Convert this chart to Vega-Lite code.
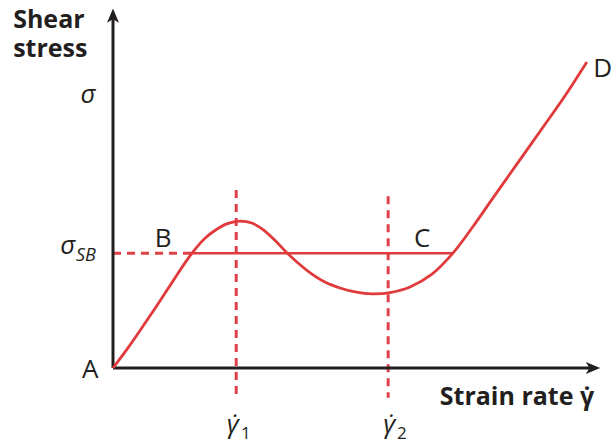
{
  "$schema": "https://vega.github.io/schema/vega-lite/v6.json",
  "autosize": {"type": "none"},
  "width": 487,
  "height": 328,
  "padding": {"left": 113, "top": 40, "right": 14, "bottom": 80},
  "background": "white",
  "config": {"view": {"stroke": null}},
  "datasets": {
    "curve": [
      {"x": 0, "y": 0}, {"x": 0.3, "y": 0.6}, {"x": 0.6, "y": 1.24}, {"x": 0.9, "y": 1.9},
      {"x": 1.2, "y": 2.58}, {"x": 1.5, "y": 3.25}, {"x": 1.7, "y": 3.65}, {"x": 1.9, "y": 3.97},
      {"x": 2.1, "y": 4.2}, {"x": 2.35, "y": 4.4}, {"x": 2.6, "y": 4.48}, {"x": 2.85, "y": 4.42},
      {"x": 3.08, "y": 4.22}, {"x": 3.32, "y": 3.9}, {"x": 3.56, "y": 3.53}, {"x": 3.8, "y": 3.2},
      {"x": 4.05, "y": 2.9}, {"x": 4.35, "y": 2.62}, {"x": 4.66, "y": 2.44}, {"x": 4.97, "y": 2.32},
      {"x": 5.32, "y": 2.26}, {"x": 5.69, "y": 2.3}, {"x": 6.1, "y": 2.47}, {"x": 6.55, "y": 2.86},
      {"x": 6.98, "y": 3.5}, {"x": 7.4, "y": 4.33}, {"x": 7.8, "y": 5.18}, {"x": 8.3, "y": 6.23},
      {"x": 8.8, "y": 7.28}, {"x": 9.3, "y": 8.34}, {"x": 9.73, "y": 9.33}
    ],
    "plateau_dashed": [{"x": 0, "x2": 1.62, "y": 3.5}],
    "plateau_solid": [{"x": 1.62, "x2": 6.98, "y": 3.5}],
    "rates": [
      {"x": 2.53, "y": 5.43, "y2": -0.91},
      {"x": 5.65, "y": 5.24, "y2": -0.91}
    ],
    "axes": [
      {"x": 0, "x2": 0, "y": 0, "y2": 10.65},
      {"x": 0, "x2": 9.79, "y": 0, "y2": 0}
    ],
    "y_tip": [{"x": 0, "y": 10.72}],
    "x_tip": [{"x": 9.84, "y": 0}],
    "points": [
      {"label": "A", "x": -0.47, "y": -0.3},
      {"label": "B", "x": 1.03, "y": 3.68},
      {"label": "C", "x": 6.35, "y": 3.68}
    ],
    "point_d": [{"label": "D", "x": 9.86, "y": 8.87}],
    "sigma": [
      {"label": "σ", "x": -0.51, "y": 8.08},
      {"label": "σ", "x": -0.93, "y": 3.48}
    ],
    "sigma_sub": [{"label": "SB", "x": -0.76, "y": 3.26}],
    "y_title": [{"label": "Shear\nstress", "x": -2.05, "y": 10.37}],
    "x_title": [{"label": "Strain rate γ̇", "x": 6.71, "y": -1.13}],
    "gammas": [
      {"label": "γ̇", "x": 2.46, "y": -1.98},
      {"label": "γ̇", "x": 5.67, "y": -1.98}
    ],
    "gamma_sub": [
      {"label": "1", "x": 2.63, "y": -2.16},
      {"label": "2", "x": 5.83, "y": -2.16}
    ]
  },
  "encoding": {
    "x": {"field": "x", "type": "quantitative", "scale": {"domain": [0, 10]}, "axis": null},
    "y": {"field": "y", "type": "quantitative", "scale": {"domain": [0, 10]}, "axis": null}
  },
  "layer": [
    {
      "data": {"name": "rates"},
      "mark": {"type": "rule", "color": "#e0404a", "strokeWidth": 3, "strokeDash": [8, 6]},
      "encoding": {"y2": {"field": "y2"}}
    },
    {
      "data": {"name": "plateau_dashed"},
      "mark": {"type": "rule", "color": "#e0404a", "strokeWidth": 3, "strokeDash": [8, 6]},
      "encoding": {"x2": {"field": "x2"}}
    },
    {
      "data": {"name": "plateau_solid"},
      "mark": {"type": "rule", "color": "#e03a3c", "strokeWidth": 2.6},
      "encoding": {"x2": {"field": "x2"}}
    },
    {
      "data": {"name": "axes"},
      "mark": {"type": "rule", "color": "#231f20", "strokeWidth": 3},
      "encoding": {"x2": {"field": "x2"}, "y2": {"field": "y2"}}
    },
    {
      "data": {"name": "y_tip"},
      "mark": {"type": "point", "shape": "M0,-1L0.75,0.8L0,0.35L-0.75,0.8Z", "size": 256, "filled": true, "color": "#231f20", "opacity": 1}
    },
    {
      "data": {"name": "x_tip"},
      "mark": {"type": "point", "shape": "M1,0L-0.8,0.75L-0.35,0L-0.8,-0.75Z", "size": 256, "filled": true, "color": "#231f20", "opacity": 1}
    },
    {
      "data": {"name": "curve"},
      "mark": {"type": "line", "color": "#e03a3c", "strokeWidth": 2.8, "interpolate": "catmull-rom"}
    },
    {
      "data": {"name": "points"},
      "mark": {"type": "text", "font": "Open Sans", "fontSize": 26, "color": "#231f20", "align": "center", "baseline": "alphabetic"},
      "encoding": {"text": {"field": "label"}}
    },
    {
      "data": {"name": "point_d"},
      "mark": {"type": "text", "font": "Open Sans", "fontSize": 26, "color": "#231f20", "align": "left", "baseline": "alphabetic"},
      "encoding": {"text": {"field": "label"}}
    },
    {
      "data": {"name": "sigma"},
      "mark": {"type": "text", "font": "Open Sans", "fontStyle": "italic", "fontSize": 26, "color": "#231f20", "align": "center", "baseline": "alphabetic"},
      "encoding": {"text": {"field": "label"}}
    },
    {
      "data": {"name": "sigma_sub"},
      "mark": {"type": "text", "font": "Open Sans", "fontStyle": "italic", "fontSize": 18, "color": "#231f20", "align": "left", "baseline": "alphabetic"},
      "encoding": {"text": {"field": "label"}}
    },
    {
      "data": {"name": "y_title"},
      "mark": {"type": "text", "font": "Open Sans", "fontWeight": "bold", "fontSize": 25, "lineHeight": 29, "lineBreak": "\n", "color": "#231f20", "align": "left", "baseline": "alphabetic"},
      "encoding": {"text": {"field": "label"}}
    },
    {
      "data": {"name": "x_title"},
      "mark": {"type": "text", "font": "Open Sans", "fontWeight": "bold", "fontSize": 25, "color": "#231f20", "align": "left", "baseline": "alphabetic"},
      "encoding": {"text": {"field": "label"}}
    },
    {
      "data": {"name": "gammas"},
      "mark": {"type": "text", "font": "Open Sans", "fontStyle": "italic", "fontSize": 26, "color": "#231f20", "align": "center", "baseline": "alphabetic"},
      "encoding": {"text": {"field": "label"}}
    },
    {
      "data": {"name": "gamma_sub"},
      "mark": {"type": "text", "font": "Open Sans", "fontSize": 17, "color": "#231f20", "align": "left", "baseline": "alphabetic"},
      "encoding": {"text": {"field": "label"}}
    }
  ]
}
